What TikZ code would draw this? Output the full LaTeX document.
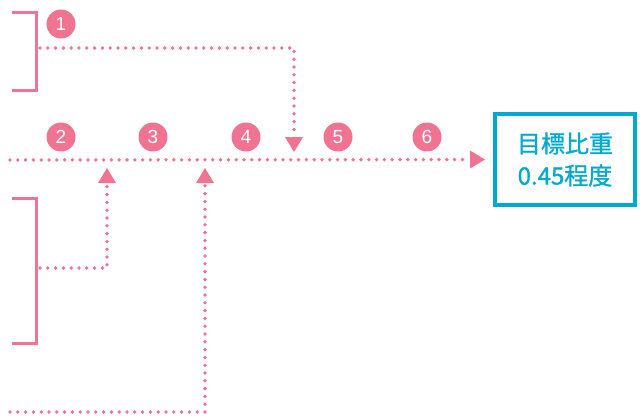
\documentclass[tikz,border=0pt]{standalone}
\usepackage{fontspec}
\newfontfamily\jpfont[FakeBold=1.2]{Noto Sans CJK JP}
\newfontfamily\numfont{Liberation Sans}
\usetikzlibrary{arrows.meta, positioning}
\definecolor{markpink}{RGB}{240,115,146}
\definecolor{boxcyan}{RGB}{0,170,206}

\begin{document}
\begin{tikzpicture}[
    x=1pt, y=-1pt,
    bracket/.style={
        draw=markpink, line width=3pt
    },
    flow/.style={
        draw=markpink, line width=3.8pt, line cap=round, dash pattern=on 0pt off 7.8pt
    },
    flowarrow/.style={
        flow, -{Triangle[width=18pt, length=15pt, line width=0pt, fill=markpink]}
    },
    num/.style={
        circle, fill=markpink, text=white, minimum size=29pt, inner sep=0pt,
        font=\numfont\fontsize{19}{19}\selectfont
    },
    target/.style={
        rectangle, draw=boxcyan, line width=4pt, text=boxcyan, align=center,
        minimum width=140pt, minimum height=91pt, inner sep=0pt,
        font=\jpfont\fontsize{24}{32}\selectfont
    }
]
\useasboundingbox (0,0) rectangle (640,418);

% Brackets
\draw[bracket] (12,12) -- (36,12) -- (36,90) -- (12,90);
\draw[bracket] (12,198) -- (36,198) -- (36,343) -- (12,343);

% Target
\node[target] (target) at (565,159.5) {目標比重\\0.45程度};

% Numbers
\node[num] (n1) at (61,24) {1};
\node[num] (n2) at (61,137) {2};
\node[num] (n3) at (153,137) {3};
\node[num] (n4) at (246,137) {4};
\node[num] (n5) at (338,137) {5};
\node[num] (n6) at (427,137) {6};

% Flow points
\coordinate (start) at (10,160);
\coordinate (b1) at (40,48);
\coordinate (b2) at (40,268);
\coordinate (low) at (10,412);
\coordinate (m1) at (294,160);
\coordinate (m2) at (107,160);
\coordinate (m3) at (205,160);

% Flows
\draw[flowarrow, shorten >=8pt] (start) -- (target.west);
\draw[flowarrow, shorten >=8pt] (b1) -| (m1);
\draw[flowarrow, shorten >=8pt] (b2) -| (m2);
\draw[flowarrow, shorten >=8pt] (low) -| (m3);

\end{tikzpicture}
\end{document}
